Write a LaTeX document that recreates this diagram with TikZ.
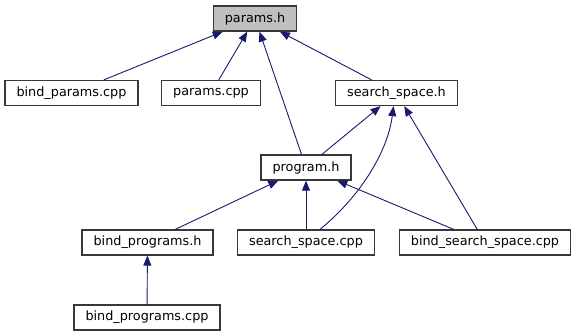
\documentclass[tikz,border=0pt]{standalone}
\usepackage{fontspec}
\setmainfont{DejaVu Sans}
\usetikzlibrary{arrows.meta,positioning}
\definecolor{edgeblue}{RGB}{25,25,112}
\definecolor{boxline}{RGB}{56,56,56}
\definecolor{rootfill}{RGB}{191,191,191}

\begin{document}
\begin{tikzpicture}[x=1pt,y=-1pt,
every node/.style={rectangle,draw=boxline,line width=1.25pt,fill=white,
  minimum height=25pt,inner xsep=11.5pt,font=\fontsize{12.8}{15}\selectfont},
dep/.style={edgeblue,line width=0.9pt,-{Triangle[length=10pt,width=8pt]}}]
\useasboundingbox (0,0) rectangle (577,336);
\node[fill=rootfill] (paramsh) at (255,18.5) {params.h};
\node (bindparamscpp) at (71.5,93) {bind\_params.cpp};
\node (paramscpp) at (211,93) {params.cpp};
\node (searchspaceh) at (396.5,93) {search\_space.h};
\node (programh) at (306,167.5) {program.h};
\node (bindprogramsh) at (147.5,242.5) {bind\_programs.h};
\node (searchspacecpp) at (306,242.5) {search\_space.cpp};
\node (bindsearchspacecpp) at (485,242.5) {bind\_search\_space.cpp};
\node (bindprogramscpp) at (147,317.5) {bind\_programs.cpp};
\draw[dep] (bindparamscpp)--(paramsh);
\draw[dep] (paramscpp)--(paramsh);
\draw[dep] (programh)--(paramsh);
\draw[dep] (searchspaceh)--(paramsh);
\draw[dep] (programh)--(searchspaceh);
\draw[dep] ([xshift=14pt]searchspacecpp.north) .. controls (362,195) and (388,150) .. ([xshift=-3pt]searchspaceh.south);
\draw[dep] (bindsearchspacecpp)--(searchspaceh);
\draw[dep] (bindprogramsh)--(programh);
\draw[dep] (searchspacecpp)--(programh);
\draw[dep] (bindsearchspacecpp)--(programh);
\draw[dep] (bindprogramscpp)--(bindprogramsh);
\end{tikzpicture}
\end{document}
